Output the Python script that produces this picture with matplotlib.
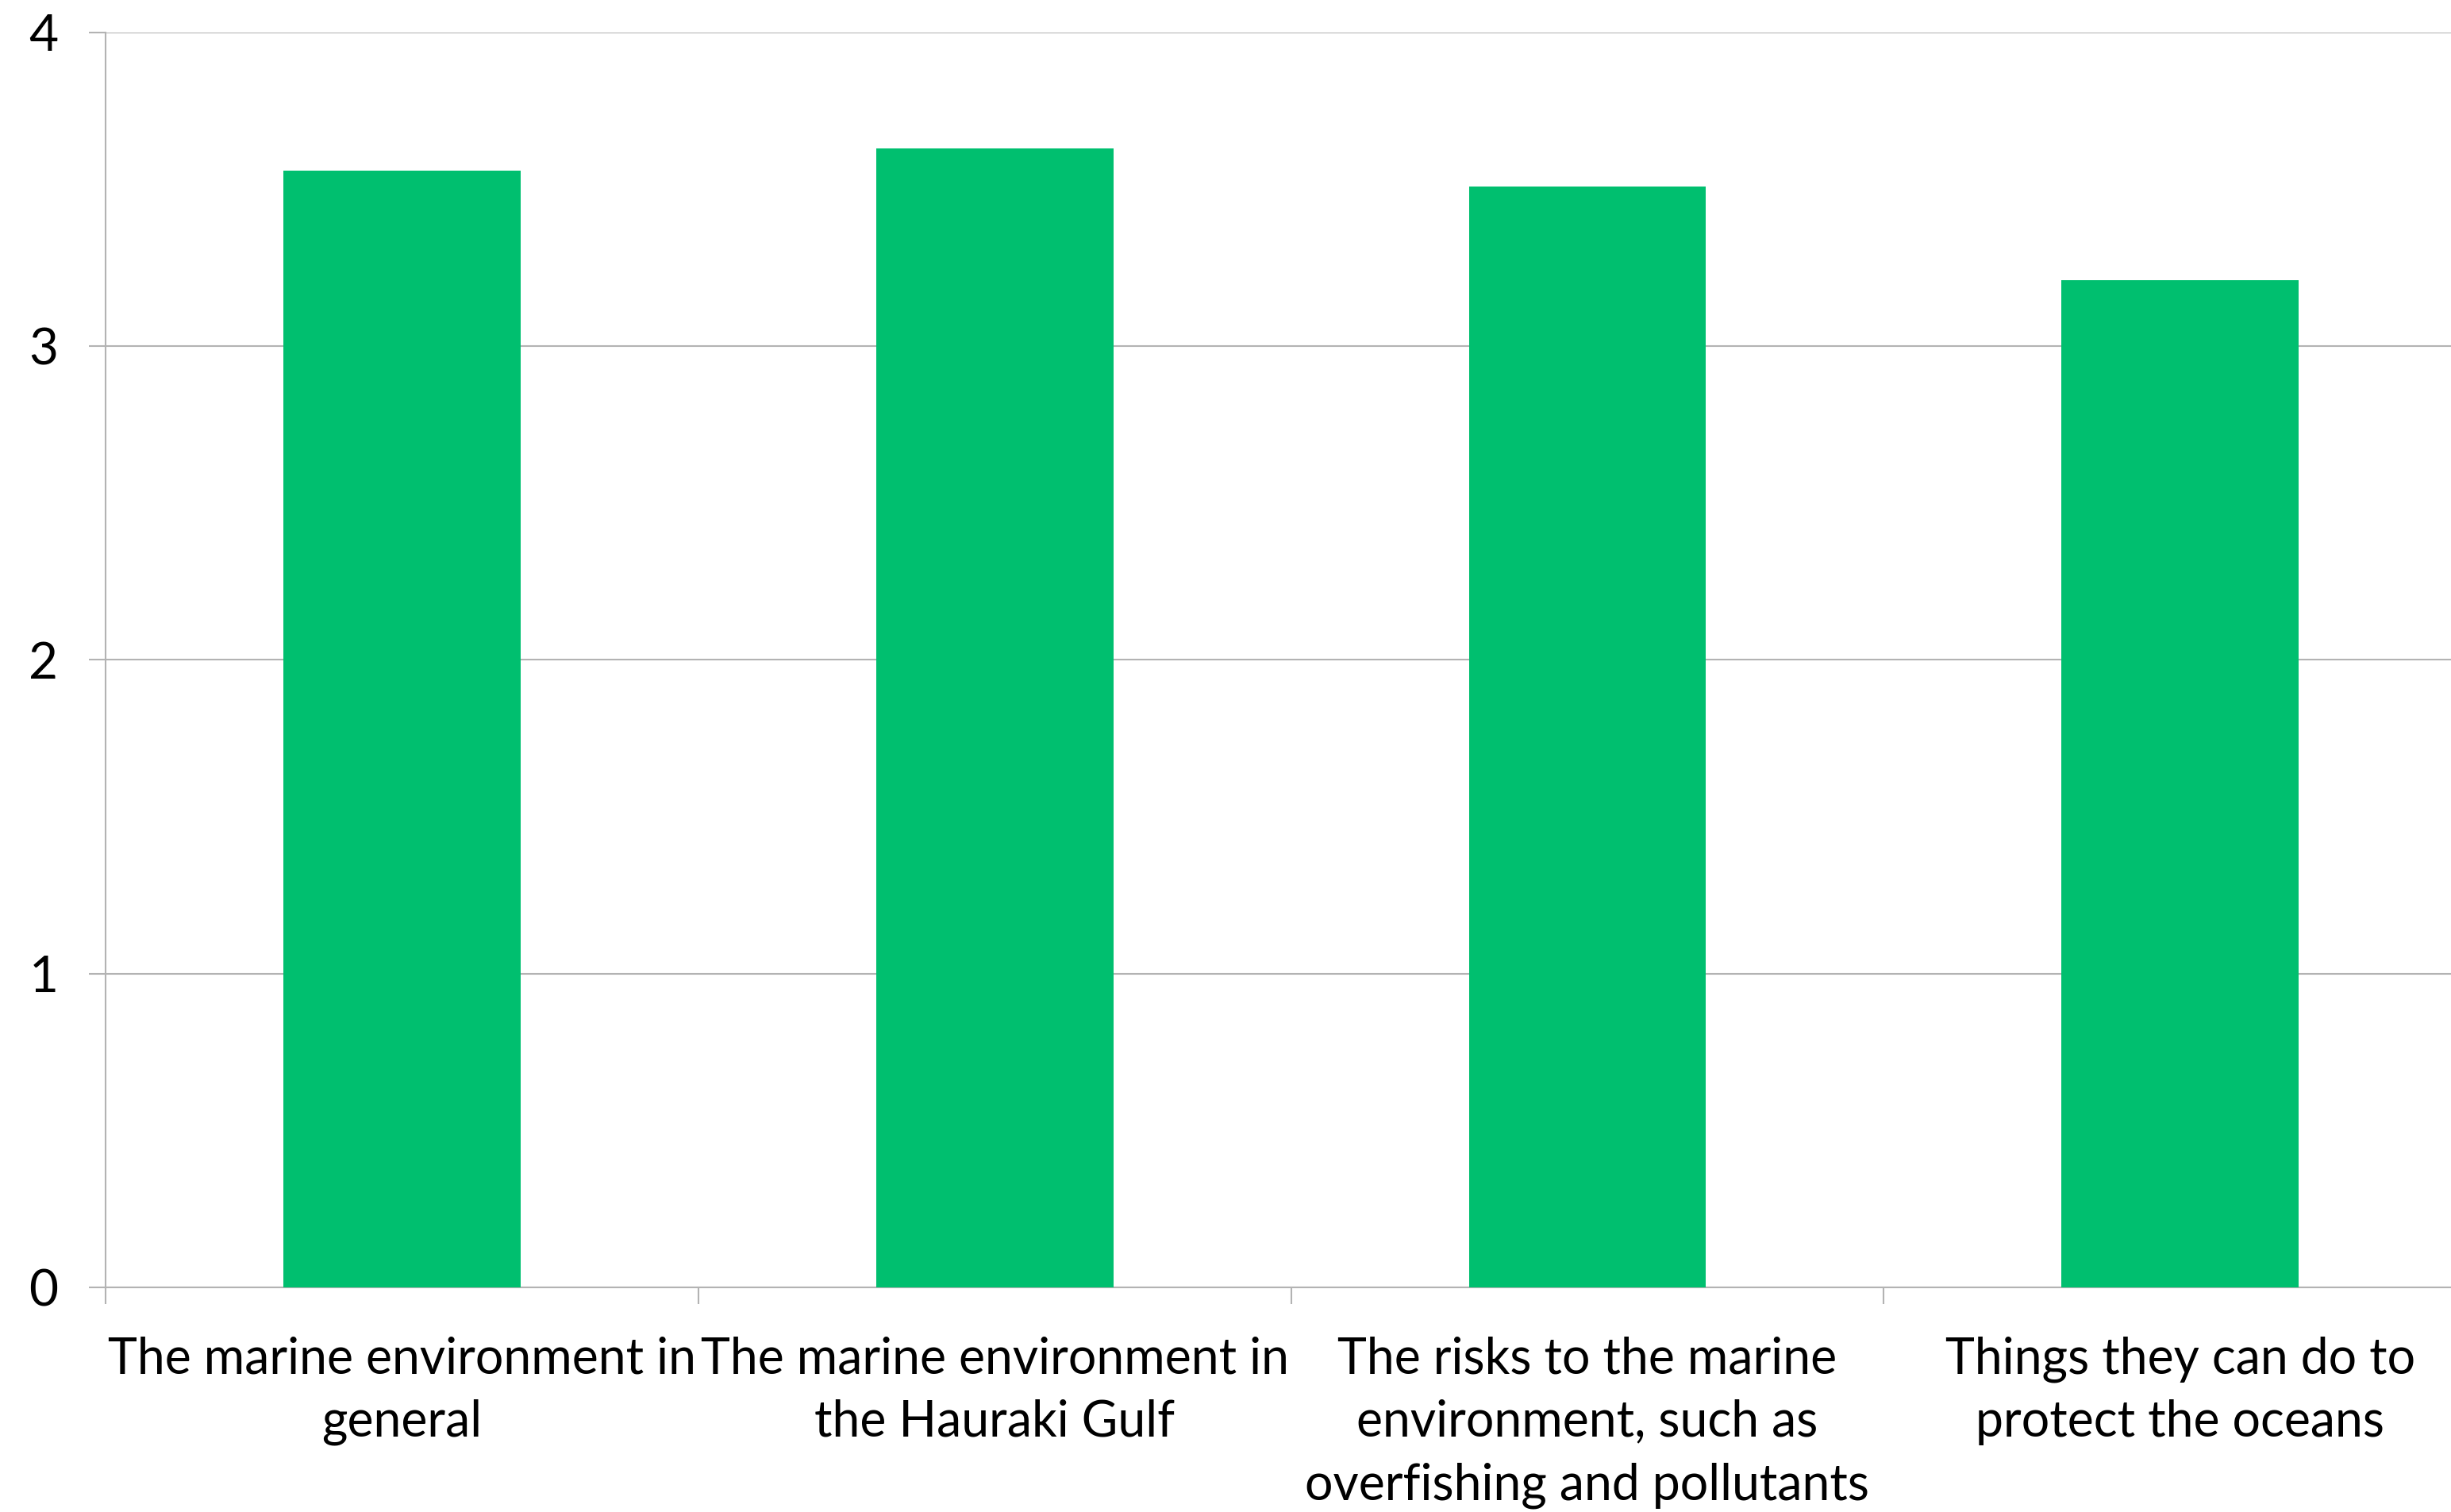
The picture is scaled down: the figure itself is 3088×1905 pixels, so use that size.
import matplotlib
matplotlib.use("Agg")
import matplotlib.pyplot as plt
import numpy as np

categories = [
    "The marine environment in\ngeneral",
    "The marine environment in\nthe Hauraki Gulf",
    "The risks to the marine\nenvironment, such as\noverfishing and pollutants",
    "Things they can do to\nprotect the oceans",
]
values = [3.56, 3.63, 3.51, 3.21]
yticks = [0, 1, 2, 3, 4]

plt.rcParams['font.family'] = ['Lato', 'DejaVu Sans']

fig = plt.figure(figsize=(30.88, 19.05), dpi=100)
ax = fig.add_axes([0.0431, 0.1486, 1.0104 - 0.0431, 0.9785 - 0.1486])

x = np.arange(len(categories))
ax.bar(x, values, width=0.4, color="#00BF6F", zorder=3)

grid_c = "#b3b3b3"
ax.set_xlim(-0.5, 3.5)
ax.set_ylim(0, 4)
ax.set_yticks(yticks)
ax.set_yticklabels([str(t) for t in yticks])
ax.yaxis.grid(True, color=grid_c, linewidth=1.5, zorder=0)
ax.set_axisbelow(True)

ax.set_xticks(x)
ax.set_xticklabels(categories, fontsize=45, linespacing=1.46)
ax.set_xticks(np.arange(-0.5, 4.0, 1.0), minor=True)
ax.tick_params(axis='x', which='major', length=0, pad=44)
ax.tick_params(axis='x', which='minor', length=15, width=1.5, color=grid_c)
ax.tick_params(axis='y', length=15, width=1.5, color=grid_c, labelsize=46, pad=28)

for s in ['top', 'right']:
    ax.spines[s].set_visible(False)
for s in ['left', 'bottom']:
    ax.spines[s].set_color(grid_c)
    ax.spines[s].set_linewidth(1.5)

fig.savefig("out.png", dpi=100)
